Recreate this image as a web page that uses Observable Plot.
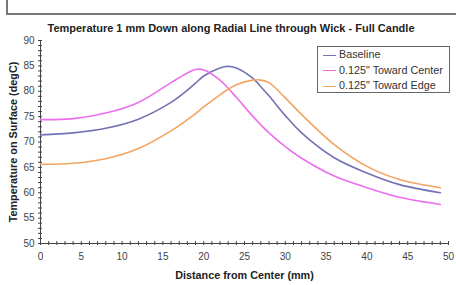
<!DOCTYPE html>
<html><head><meta charset="utf-8">
<script src="https://cdn.jsdelivr.net/npm/d3@7"></script>
<script src="https://cdn.jsdelivr.net/npm/@observablehq/plot@0.6"></script>
<style>
body{margin:0;background:#fff;font-family:"Liberation Sans",Arial,sans-serif;}
#wrap{position:relative;width:456px;height:285px;overflow:hidden;}
#frameH{position:absolute;left:6px;top:13px;width:450px;height:2px;background:#777;}
#frameV{position:absolute;left:6px;top:0;width:2px;height:14px;background:#777;}
#title{position:absolute;left:0;width:462px;top:22px;text-align:center;font-weight:bold;font-size:11px;color:#222;}
#legend{position:absolute;left:317px;top:46px;width:131px;height:45px;border:1px solid #666;background:#fff;font-size:10.8px;color:#333;}
.li{position:absolute;left:5px;height:12px;line-height:12px;}
.sw{display:inline-block;width:13px;height:0;border-top:1.5px solid;vertical-align:middle;margin-right:3px;}
</style></head>
<body><div id="wrap"><div id="frameH"></div><div id="frameV"></div><div id="chart"></div>
<div id="title">Temperature 1 mm Down along Radial Line through Wick - Full Candle</div>
<div id="legend"></div></div>
<script>
const distance = [0,4,8,12,16,18,19,20,22,23,24,26,27,28,30,32,36,40,44,49];
const baseline = [71.4,71.8,72.7,74.5,77.8,80.2,81.6,83.0,84.6,84.9,84.6,82.6,80.9,79.1,75.2,71.8,66.9,63.9,61.6,60.0];
const towardCenter = [74.4,74.6,75.7,77.8,81.7,83.6,84.3,84.2,82.2,80.6,78.8,75.1,73.4,71.8,69.1,66.8,63.3,61.0,59.1,57.7];
const towardEdge = [65.6,65.8,66.7,68.7,72.2,74.4,75.6,76.9,79.3,80.4,81.3,82.2,82.2,81.7,78.7,75.4,69.5,65.2,62.6,61.0];
const seriesNames = ["Baseline","0.125\" Toward Center","0.125\" Toward Edge"];
const seriesColors = ["#7272b4","#ec6eec","#f2a462"];
const xTicks = d3.range(0,51,5);
const yTicks = d3.range(50,91,5);

const seriesVals = [baseline, towardCenter, towardEdge];
const data = [];
seriesVals.forEach((vals,si)=>vals.forEach((v,i)=>data.push({x:distance[i], y:v, s:seriesNames[si]})));

const lbl = {fontSize:10, fill:"#444"};
const chart = Plot.plot({
  width:456, height:285,
  marginLeft:40, marginRight:8, marginTop:40, marginBottom:42,
  style:{fontFamily:"'Liberation Sans', Arial, sans-serif", background:"transparent", overflow:"visible"},
  x:{domain:[0,50]},
  y:{domain:[50,90]},
  color:{domain:seriesNames, range:seriesColors},
  marks:[
    Plot.axisX({ticks:d3.range(0,51,1), tickSize:2, tickFormat:()=>"", label:null, stroke:"#444"}),
    Plot.axisX({ticks:d3.range(0,51,1), tickSize:-2, tickFormat:()=>"", label:null, stroke:"#444"}),
    Plot.axisX({ticks:xTicks, tickSize:0, tickPadding:9, ...lbl, label:"Distance from Center (mm)", labelAnchor:"center", labelArrow:"none", labelOffset:35}),
    Plot.axisY({ticks:d3.range(50,91,1), tickSize:2, tickFormat:()=>"", label:null, stroke:"#444"}),
    Plot.axisY({ticks:d3.range(50,91,1), tickSize:-2, tickFormat:()=>"", label:null, stroke:"#444"}),
    Plot.axisY({ticks:yTicks, tickSize:0, tickPadding:6, ...lbl, label:"Temperature on Surface (degC)", labelAnchor:"center", labelArrow:"none", labelOffset:31}),
    Plot.ruleX([0],{stroke:"#444"}),
    Plot.ruleY([50],{stroke:"#444"}),
    Plot.line(data,{x:"x", y:"y", z:"s", stroke:"s", strokeWidth:1.6, curve:"catmull-rom"})
  ]
});
d3.select(chart).selectAll("g[aria-label='x-axis label'] text, g[aria-label='y-axis label'] text")
  .style("font-weight","bold").style("font-size","10.8px").attr("fill","#222");
document.getElementById("chart").appendChild(chart);

const leg = document.getElementById("legend");
seriesNames.forEach((n,i)=>{
  const d = document.createElement("div");
  d.className="li"; d.style.top=(1+i*15.5)+"px";
  d.innerHTML=`<span class="sw" style="border-color:${seriesColors[i]}"></span>`;
  d.appendChild(document.createTextNode(n));
  leg.appendChild(d);
});
</script></body></html>
